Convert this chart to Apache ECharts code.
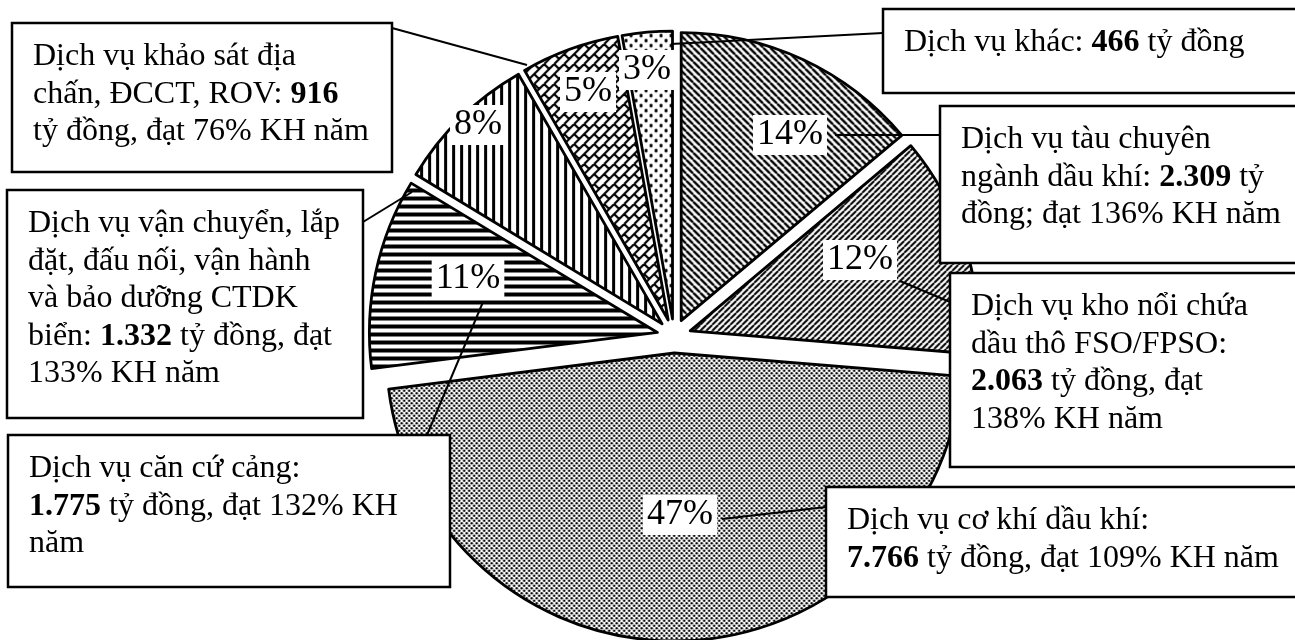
<!DOCTYPE html>
<html>
<head>
<meta charset="utf-8">
<title>Cơ cấu doanh thu dịch vụ</title>
<script src="https://cdn.jsdelivr.net/npm/echarts@6.0.0/dist/echarts.min.js"></script>
<style>
    html, body { margin: 0; padding: 0; background: #fff; }
    #main { width: 1295px; height: 640px; }
</style>
</head>
<body>
<div id="main"></div>
<script>
// số liệu (tỷ đồng), theo chiều kim đồng hồ từ 12 giờ
var names = [
    'Dịch vụ tàu chuyên ngành dầu khí',
    'Dịch vụ kho nổi chứa dầu thô FSO/FPSO',
    'Dịch vụ cơ khí dầu khí',
    'Dịch vụ căn cứ cảng',
    'Dịch vụ vận chuyển, lắp đặt, đấu nối, vận hành và bảo dưỡng CTDK biển',
    'Dịch vụ khảo sát địa chấn, ĐCCT, ROV',
    'Dịch vụ khác'
];
var values = [2309, 2063, 7766, 1775, 1332, 916, 466];
var planPct = [136, 138, 109, 132, 133, 76, null];

// chữ trong các hộp chú thích ({v} = giá trị, {p} = % KH năm)
var boxText = [
    'Dịch vụ tàu chuyên\nngành dầu khí: {v} tỷ\nđồng; đạt {p}% KH năm',
    'Dịch vụ kho nổi chứa\ndầu thô FSO/FPSO:\n{v} tỷ đồng, đạt\n{p}% KH năm',
    'Dịch vụ cơ khí dầu khí:\n{v} tỷ đồng, đạt {p}% KH năm',
    'Dịch vụ căn cứ cảng:\n{v} tỷ đồng, đạt {p}% KH\nnăm',
    'Dịch vụ vận chuyển, lắp\nđặt, đấu nối, vận hành\nvà bảo dưỡng CTDK\nbiển: {v} tỷ đồng, đạt\n{p}% KH năm',
    'Dịch vụ khảo sát địa\nchấn, ĐCCT, ROV: {v}\ntỷ đồng, đạt {p}% KH năm',
    'Dịch vụ khác: {v} tỷ đồng'
];

// bố cục: hộp chú thích [x, y, w, h], nhãn % và đường dẫn
var boxes = [[940, 106, 370, 157], [950, 273, 360, 194], [826, 487, 480, 110], [8, 435, 442, 152], [7, 190, 356, 228], [12, 23, 380, 149], [883, 9, 420, 84]];
var pctPos = [[790, 135], [860, 260], [680, 515], [468, 279], [478, 125], [588, 92], [647, 70]];
var leaders = [
    [[835, 135], [940, 135]],
    [[900, 281], [950, 302]],
    [[722, 519], [826, 507]],
    [[483, 302], [427, 435]],
    [[412, 192], [363, 222]],
    [[527, 65], [392, 28]],
    [[671, 44], [883, 33]]
];

var FONT = "'Liberation Serif', 'DejaVu Serif', serif";

function fmt(v) {
    return String(v).replace(/\B(?=(\d{3})+(?!\d))/g, '.');
}

// % làm tròn theo cách của echarts (tổng = 100)
function percentOf(i) {
    if (echarts.number && echarts.number.getPercentWithPrecision) {
        return echarts.number.getPercentWithPrecision(values, i, 0);
    }
    var sum = values.reduce(function(a, b) { return a + b; }, 0);
    var raw = values.map(function(v) { return v / sum * 100; });
    var seats = raw.map(Math.floor);
    var left = 100 - seats.reduce(function(a, b) { return a + b; }, 0);
    var order = raw.map(function(r, k) { return k; }).sort(function(a, b) {
        return (raw[b] - seats[b]) - (raw[a] - seats[a]);
    });
    for (var k = 0; k < left; k++) seats[order[k]]++;
    return seats[i];
}

// tạo mẫu tô (hatch) bằng canvas nhỏ
function makePattern(w, h, paint) {
    var c = document.createElement('canvas');
    c.width = w;
    c.height = h;
    var ctx = c.getContext('2d');
    ctx.fillStyle = '#fff';
    ctx.fillRect(0, 0, w, h);
    ctx.fillStyle = '#000';
    ctx.strokeStyle = '#000';
    paint(ctx, w, h);
    return {image: c, repeat: 'repeat'};
}
function diag(dir, lw) {
    return function(ctx, w, h) {
        ctx.lineWidth = lw;
        ctx.beginPath();
        for (var k = -w; k <= w; k += w) {
            if (dir > 0) { ctx.moveTo(k, h); ctx.lineTo(k + w, 0); }
            else { ctx.moveTo(k, 0); ctx.lineTo(k + w, h); }
        }
        ctx.stroke();
    };
}
function dots(pts, rx, ry) {
    return function(ctx) {
        pts.forEach(function(p) {
            ctx.beginPath();
            ctx.ellipse(p[0], p[1], rx, ry, 0, 0, Math.PI * 2);
            ctx.fill();
        });
    };
}
// gạch xếp chéo: hàng theo hướng "/", mạch ngắn theo hướng "\"
function bricks(ctx) {
    ctx.lineWidth = 2.2;
    ctx.beginPath();
    for (var c = -20; c <= 60; c += 10) {
        ctx.moveTo(c + 20, -20); ctx.lineTo(c - 20, 20);
    }
    for (var k = -3; k <= 6; k++) {
        for (var m = -4; m <= 4; m++) {
            var d = 20 * m + (k % 2 === 0 ? 0 : 10);
            var s0 = 10 * k, s1 = 10 * k + 10;
            ctx.moveTo((s0 + d) / 2, (s0 - d) / 2);
            ctx.lineTo((s1 + d) / 2, (s1 - d) / 2);
        }
    }
    ctx.stroke();
}

var patterns = [
    makePattern(7, 7, diag(-1, 2.4)),
    makePattern(6, 6, diag(1, 2)),
    makePattern(5, 5, dots([[1.25, 1.25], [3.75, 3.75]], 1.2, 1.2)),
    makePattern(8, 8, function(ctx) { ctx.fillRect(0, 0, 8, 4); }),
    makePattern(8, 8, function(ctx) { ctx.fillRect(0, 0, 3, 8); }),
    makePattern(20, 20, bricks),
    makePattern(10, 10, dots([[2.5, 2.5], [7.5, 7.5]], 1.5, 2))
];

// hộp chú thích, đường dẫn và nhãn %
var graphics = [];
values.forEach(function(v, i) {
    var a = leaders[i][0], b = leaders[i][1];
    graphics.push({
        type: 'line', z: 10, silent: true,
        shape: {x1: a[0], y1: a[1], x2: b[0], y2: b[1]},
        style: {stroke: '#000', lineWidth: 2}
    });
    var r = boxes[i];
    graphics.push({
        type: 'rect', z: 11, silent: true,
        shape: {x: r[0], y: r[1], width: r[2], height: r[3]},
        style: {fill: '#fff', stroke: '#000', lineWidth: 2.5}
    });
    graphics.push({
        type: 'text', z: 12, silent: true,
        x: r[0] + 21, y: r[1] + 15,
        style: {
            text: boxText[i].replace('{v}', '{b|' + fmt(v) + '}').replace('{p}', planPct[i]),
            font: '32px ' + FONT,
            lineHeight: 37.5,
            fill: '#000',
            rich: {b: {fontFamily: FONT, fontSize: 32, fontWeight: 'bold', lineHeight: 37.5, fill: '#000'}}
        }
    });
    graphics.push({
        type: 'text', z: 12, silent: true,
        x: pctPos[i][0], y: pctPos[i][1],
        style: {
            text: percentOf(i) + '%',
            font: '36px ' + FONT,
            fill: '#000',
            align: 'center',
            verticalAlign: 'middle',
            backgroundColor: '#fff',
            padding: [3, 4, 1, 4]
        }
    });
});

var myChart = echarts.init(document.getElementById('main'));

var option = {
    backgroundColor: '#fff',
    animation: false,
    graphic: graphics,
    series: [{
        name: 'Doanh thu',
        type: 'pie',
        center: [674, 336],
        radius: 288,
        startAngle: 90,
        clockwise: true,
        selectedMode: 'multiple',
        selectedOffset: 17,
        animation: false,
        emphasis: {disabled: true},
        label: {show: false},
        labelLine: {show: false},
        itemStyle: {borderColor: '#000', borderWidth: 2.8},
        select: {itemStyle: {borderColor: '#000', borderWidth: 2.8}},
        data: values.map(function(v, i) {
            return {name: names[i], value: v, selected: true, itemStyle: {color: patterns[i]}};
        })
    }]
};

myChart.setOption(option);
</script>
</body>
</html>
